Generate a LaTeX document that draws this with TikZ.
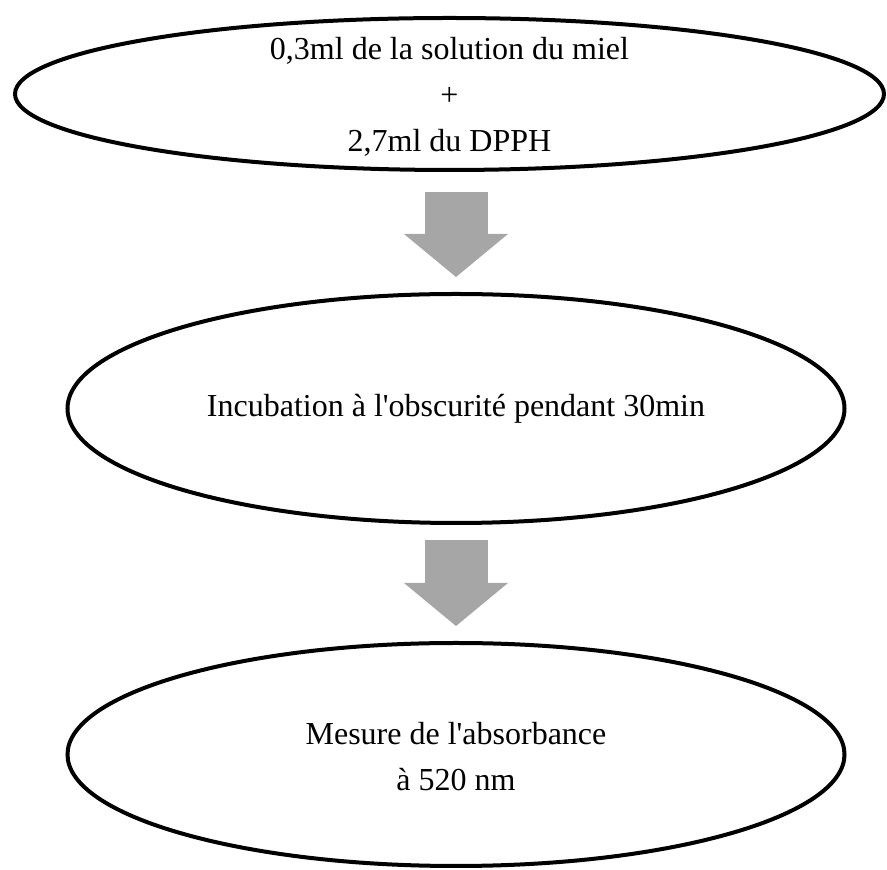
\documentclass[tikz,border=0pt]{standalone}
\usepackage{fontspec}
\setmainfont{Liberation Serif}
\usetikzlibrary{shapes.geometric,arrows.meta}
\definecolor{arrowgray}{HTML}{A6A6A6}
\begin{document}
\begin{tikzpicture}[x=1pt,y=1pt]

  \tikzstyle{stage}=[shape=ellipse, draw, line width=4pt, inner sep=0pt, outer sep=0pt, align=center, font=\fontsize{32}{46}\selectfont]

  \tikzstyle{flow}=[draw=arrowgray, line width=63pt, -{Triangle[width=104pt,length=43pt,line width=0pt,fill=arrowgray]}]

\useasboundingbox (0,0) rectangle (887,870);

%% nodes or vertices

\node (A)[stage, minimum width=869pt, minimum height=152pt, text height=116pt, text depth=0pt, inner ysep=-10pt] at (449.5,776) {0,3ml de la solution du miel\\+\\2,7ml du DPPH};

\node (B)[stage, minimum width=777pt, minimum height=229pt] at (456,461.5) {Incubation à l\textquotesingle obscurité pendant 30min};

\node (C)[stage, minimum width=777pt, minimum height=223pt, text height=73pt, text depth=0pt] at (456,115.5) {Mesure de l\textquotesingle absorbance\\à 520 nm};

%% block arrows

\path
	(A.south -| B.north) edge[flow, shorten <=22pt, shorten >=17pt] (B.north)

	(B.south) edge[flow, shorten <=17pt, shorten >=17pt] (C.north)
;
\end{tikzpicture}
\end{document}
